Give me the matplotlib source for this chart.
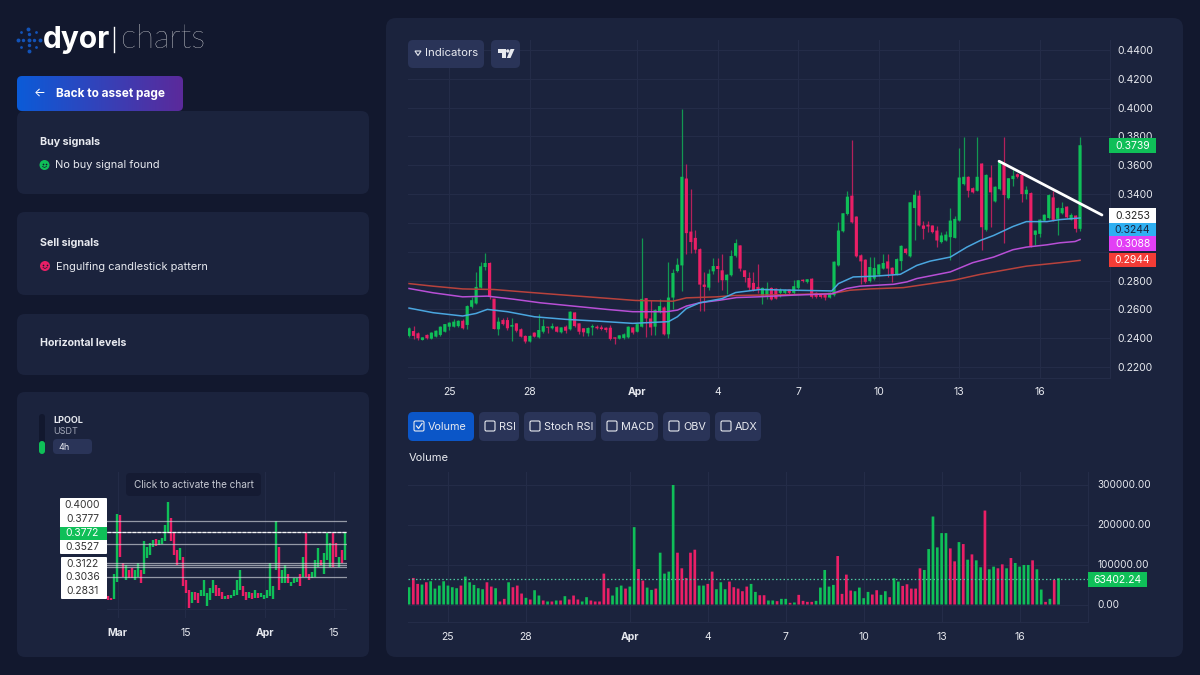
import numpy as np
import matplotlib
matplotlib.use("Agg")
import matplotlib.pyplot as plt
from matplotlib.patches import FancyBboxPatch, Circle, Polygon, Rectangle

plt.rcParams['font.family'] = ['Inter', 'DejaVu Sans']

# --- main chart: 4h candles
opens = [.2416,.2450,.2434,.2388,.2423,.2397,.2411,.2423,.2445,.2480,
         .2480,.2484,.2521,.2492,.2618,.2641,.2751,.2894,.2922,.2675,
         .2462,.2526,.2526,.2480,.2503,.2462,.2416,.2377,.2439,.2406,
         .2445,.2480,.2469,.2480,.2441,.2480,.2462,.2579,.2503,.2469,
         .2434,.2475,.2480,.2475,.2473,.2473,.2406,.2397,.2402,.2406,
         .2475,.2445,.2480,.2678,.2537,.2480,.2581,.2613,.2427,.2682,
         .2866,.2905,.3508,.3140,.3096,.3018,.2772,.2751,.2864,.2901,
         .2871,.2802,.2837,.2972,.3044,.2871,.2818,.2784,.2756,.2687,
         .2692,.2749,.2744,.2715,.2715,.2738,.2715,.2749,.2806,.2791,
         .2813,.2715,.2705,.2703,.2682,.2699,.2905,.3142,.3262,.3389,
         .3244,.2975,.2945,.2797,.2814,.2841,.2883,.2933,.2889,.2843,
         .2935,.3021,.2968,.3303,.3389,.3182,.3188,.3182,.3147,.3067,
         .3078,.3101,.3096,.3216,.3469,.3520,.3441,.3423,.3612,.3152,
         .3515,.3349,.3434,.3607,.3372,.3504,.3538,.3533,.3400,.3407,
         .3117,.3124,.3216,.3234,.3377,.3228,.3267,.3313,.3223,.3251,.3159]
closes = [.2469,.2416,.2400,.2406,.2400,.2439,.2452,.2480,.2498,.2508,
          .2515,.2521,.2469,.2623,.2664,.2756,.2899,.2922,.2692,.2464,
          .2515,.2498,.2469,.2492,.2452,.2411,.2377,.2416,.2411,.2457,
          .2484,.2473,.2484,.2445,.2475,.2452,.2584,.2484,.2445,.2441,
          .2471,.2484,.2469,.2464,.2457,.2395,.2397,.2420,.2427,.2480,
          .2439,.2498,.2673,.2537,.2475,.2595,.2623,.2427,.2682,.2853,
          .2910,.3520,.3129,.3067,.3014,.2772,.2756,.2848,.2901,.2880,
          .2802,.2841,.2970,.3060,.2883,.2825,.2751,.2733,.2738,.2749,
          .2744,.2669,.2675,.2733,.2733,.2715,.2761,.2802,.2797,.2809,
          .2687,.2687,.2687,.2682,.2715,.2931,.3147,.3267,.3382,.3204,
          .2968,.2933,.2791,.2894,.2887,.2912,.2922,.2883,.2843,.2949,
          .3041,.2991,.3343,.3395,.3182,.3159,.3175,.3136,.3078,.3113,
          .3119,.3216,.3228,.3515,.3520,.3423,.3412,.3520,.3170,.3533,
          .3412,.3451,.3625,.3393,.3510,.3527,.3520,.3400,.3430,.3037,
          .3147,.3223,.3257,.3393,.3221,.3303,.3303,.3239,.3255,.3159,.3739]
highs = [.2475,.2485,.2446,.2410,.2430,.2441,.2455,.2485,.2500,.2515,
         .2531,.2526,.2531,.2627,.2687,.2860,.2929,.2993,.2929,.2675,
         .2549,.2537,.2544,.2537,.2508,.2469,.2423,.2420,.2443,.2567,
         .2531,.2480,.2508,.2484,.2480,.2492,.2588,.2584,.2508,.2473,
         .2475,.2498,.2489,.2489,.2480,.2492,.2411,.2425,.2434,.2484,
         .2480,.2503,.3096,.2682,.2664,.2600,.2675,.2623,.2931,.2883,
         .2958,.3993,.3612,.3434,.3152,.3023,.2860,.2883,.2958,.2958,
         .2986,.2848,.3009,.3090,.3048,.2876,.2860,.2860,.2917,.2756,
         .2791,.2754,.2749,.2751,.2744,.2742,.2802,.2806,.2811,.2813,
         .2818,.2719,.2710,.2708,.2719,.2935,.3204,.3271,.3423,.3773,
         .3248,.2986,.2949,.2963,.2963,.2917,.2986,.2986,.2894,.2954,
         .3046,.3025,.3347,.3428,.3428,.3216,.3211,.3186,.3182,.3136,
         .3142,.3303,.3250,.3717,.3796,.3527,.3446,.3796,.3616,.3538,
         .3602,.3455,.3630,.3796,.3515,.3573,.3543,.3538,.3458,.3412,
         .3152,.3228,.3262,.3398,.3423,.3308,.3343,.3317,.3267,.3255,.3796]
lows = [.2410,.2393,.2388,.2385,.2393,.2395,.2408,.2418,.2443,.2457,
        .2475,.2480,.2464,.2462,.2613,.2636,.2745,.2876,.2675,.2462,
        .2420,.2492,.2457,.2381,.2445,.2406,.2365,.2372,.2406,.2400,
        .2434,.2434,.2462,.2441,.2436,.2439,.2457,.2480,.2430,.2416,
        .2416,.2423,.2464,.2457,.2445,.2390,.2358,.2393,.2397,.2402,
        .2430,.2441,.2475,.2411,.2423,.2423,.2572,.2423,.2400,.2600,
        .2862,.2728,.2986,.2991,.2991,.2590,.2588,.2733,.2843,.2791,
        .2733,.2710,.2830,.2963,.2866,.2791,.2733,.2728,.2715,.2636,
        .2669,.2664,.2671,.2687,.2705,.2710,.2710,.2744,.2793,.2786,
        .2682,.2682,.2682,.2664,.2678,.2694,.2901,.3138,.3257,.3200,
        .2963,.2779,.2786,.2791,.2802,.2834,.2878,.2825,.2791,.2839,
        .2871,.2986,.2963,.3078,.3177,.3090,.3136,.3131,.3032,.3060,
        .3073,.2940,.3092,.3211,.3464,.3377,.3407,.3418,.3009,.3147,
        .3170,.3345,.3430,.3060,.3368,.3458,.3515,.3343,.3366,.3032,
        .3050,.3101,.3211,.3230,.3216,.3113,.3262,.3234,.3218,.3140,.3147]

volumes = [43200,66400,51500,49800,55600,58100,39800,47300,58100,47300,
           43200,40700,47300,69700,55600,49000,40700,38200,55600,44800,
           40700,7500,14100,55600,43200,47300,27400,16600,12500,35700,
           22400,10000,7500,7500,10000,10000,20800,12500,22400,12500,
           7500,18300,10000,7500,7500,77200,40700,22400,43200,47300,
           39800,44800,193400,88800,59800,42300,36500,39800,129500,77200,
           82200,298800,129500,90500,66400,129500,137000,47300,47300,51500,
           82200,38200,55600,38200,57300,43200,39800,33200,44800,51500,
           31500,23200,23200,10000,10000,8300,14100,14100,4200,5000,
           24100,9100,6600,6600,9100,42300,86300,44800,49000,121200,
           26600,74700,34900,33200,42300,15800,31500,24900,35700,24100,
           33200,18300,65600,57300,46500,50600,39800,39800,90500,86300,
           138600,220000,142800,178500,178500,140300,107900,156000,151100,112100,
           125300,110400,93000,234900,88000,94600,90500,100400,90500,116200,
           103800,94600,98800,98800,110400,88000,37400,6600,14100,61400,65600]
volume_last = 63402.24

# moving averages, read at a few candle positions
blue_idx = [0,5.4,12,15,17.5,22,28,35,43,50,58,60,62,65,70,73,78.5,86,94.5,96,99.3,
            103.8,109.8,113.5,116.5,121,124.7,127.7,130.7,135,138,142.6,145.5,150]
blue_val = [.2609,.2577,.2554,.2572,.2600,.2584,.2549,.2531,.2517,.2503,.2515,.2549,.2606,
            .2646,.2675,.2717,.2738,.2733,.2728,.2779,.2825,.2830,.2843,.2905,.2935,.2963,
            .3032,.3078,.3113,.3175,.3209,.3209,.3223,.3234]
mag_idx = [0,5.4,12,17.5,23.3,29.3,36.7,44.2,50,57.6,60,62,65,69.5,73.2,78,86,94.5,97.8,
           100.8,108.3,111.3,113.5,121,126,130.7,135,138,142.6,145.5,148.9,150]
mag_val = [.2745,.2715,.2687,.2692,.2671,.2646,.2623,.2600,.2584,.2584,.2595,.2623,.2646,
           .2664,.2682,.2687,.2699,.2708,.2745,.2761,.2774,.2791,.2814,.2860,.2924,.2963,
           .3014,.3032,.3048,.3062,.3071,.3085]
red_idx = [0,5.4,12,19,26.5,37,46,50.6,59,62,68.7,72.5,78,86,94.5,98.6,103,110.5,121.7,
           127.7,138,145.5,150]
red_val = [.2779,.2761,.2742,.2738,.2719,.2694,.2673,.2662,.2657,.2680,.2687,.2696,.2699,
           .2703,.2710,.2733,.2742,.2751,.2802,.2843,.2900,.2924,.2940]
trend_idx = [131.9, 154.9]
trend_val = [.3628, .3255]

date_ticks = [9, 27, 51, 69, 87, 105, 123, 141]
date_labels = ['25', '28', 'Apr', '4', '7', '10', '13', '16']
price_ticks = [.22, .24, .26, .28, .30, .32, .34, .36, .38, .40, .42, .44]
hidden_prices = [.30, .32]  # covered by the tags in the reference
volume_ticks = [0, 100000, 200000, 300000]

# --- small chart bottom left
mini_open = [.243,.239,.237,.274,.413,.312,.277,.298,.302,.277,.284,.298,.291,.323,.330,.347,
             .362,.351,.353,.358,.375,.406,.375,.340,.319,.326,.277,.257,.229,.253,.250,.243,
             .243,.223,.236,.250,.267,.260,.253,.237,.246,.239,.243,.246,.257,.264,.253,.239,
             .250,.239,.251,.241,.237,.239,.243,.237,.298,.347,.271,.271,.291,.264,.271,.274,
             .291,.284,.376,.291,.281,.284,.305,.319,.291,.319,.305,.376,.354,.305,.340,.319]
mini_close = [.236,.236,.291,.415,.326,.284,.309,.281,.281,.298,.312,.272,.358,.347,.354,.361,
              .348,.361,.365,.392,.441,.358,.330,.309,.344,.264,.250,.220,.253,.236,.229,.257,
              .277,.250,.260,.277,.243,.243,.237,.244,.237,.246,.257,.277,.298,.243,.236,.253,
              .237,.257,.239,.250,.246,.257,.312,.264,.400,.257,.298,.309,.271,.274,.281,.281,
              .264,.326,.284,.277,.295,.319,.344,.309,.333,.376,.354,.305,.326,.326,.312,.376]
mini_levels = [.4000, .3777, .3527, .3122, .3080, .3036, .2831]
mini_last = .3772
mini_ticks = [3.3, 25.9, 52.6, 75.3]
mini_labels = ['Mar', '15', 'Apr', '15']

BG = '#12182e'
PANEL = '#1b233d'
GRID = '#242c48'
BTN = '#2a3458'
GREEN = '#0fbf58'
RED = '#ea1f66'
TXT = '#e8eaf0'


def px_axes(x0, y0, x1, y1, **kw):
    return fig.add_axes([x0 / 1200, 1 - y1 / 675, (x1 - x0) / 1200, (y1 - y0) / 675], **kw)


def card(ax, x0, y0, x1, y1, color, r=8, **kw):
    p = FancyBboxPatch((x0 + r, y0 + r), x1 - x0 - 2 * r, y1 - y0 - 2 * r,
                       boxstyle="round,pad=%d,rounding_size=%d" % (r, r),
                       fc=color, ec='none', **kw)
    ax.add_patch(p)
    return p


def face(ax, cx, cy, color):
    ax.add_patch(Circle((cx, cy), 5, fc=color, ec='none'))
    ax.scatter([cx - 1.8, cx + 1.8], [cy - 1.2, cy - 1.2], s=1.5, color='#12182e', linewidths=0)
    ax.plot([cx - 2, cx, cx + 2], [cy + 1.5, cy + 2.5, cy + 1.5], color='#12182e', lw=0.5)


fig = plt.figure(figsize=(12, 6.75), dpi=100, facecolor=BG)

ui = px_axes(0, 0, 1200, 675, zorder=0)
ui.set_xlim(0, 1200)
ui.set_ylim(675, 0)
ui.axis('off')

top = px_axes(0, 0, 1200, 675, zorder=5)
top.set_xlim(0, 1200)
top.set_ylim(675, 0)
top.axis('off')
top.patch.set_alpha(0)

# panels
card(ui, 386, 18, 1183, 657, PANEL, r=10)
card(ui, 17, 111, 369, 194, PANEL)
card(ui, 17, 212, 369, 295, PANEL)
card(ui, 17, 314, 369, 375, PANEL)
card(ui, 17, 392, 369, 657, PANEL)

# logo
for a, rad, s in [(0, 0, 8), (0, 5.5, 6), (90, 5.5, 6), (180, 5.5, 6), (270, 5.5, 6),
                  (0, 11, 8), (45, 11, 4), (90, 11, 8), (135, 11, 4), (180, 11, 8),
                  (225, 11, 4), (270, 11, 8), (315, 11, 4)]:
    ui.scatter(28.5 + rad * np.cos(np.radians(a)), 39.5 + rad * np.sin(np.radians(a)),
               s=s, marker='o', color='#1253b8', linewidths=0)
ui.text(43, 39.5, 'dyor', color='white', fontsize=21.5, fontweight='bold', va='center', ha='left')
ui.plot([114, 114], [27, 52], color='white', lw=1)
ui.text(121, 39, 'charts', color='white', fontsize=23.5, family=['Lato', 'DejaVu Sans'],
        fontweight='light', va='center', ha='left')

# back button
btn = card(ui, 17, 76, 183, 111, 'none', r=5)
grad = ui.imshow(np.linspace(0, 1, 128).reshape(1, -1), extent=(17, 183, 111, 76), aspect='auto',
                 cmap=matplotlib.colors.LinearSegmentedColormap.from_list('b', ['#0b5bd8', '#5b2a9b']))
grad.set_clip_path(btn)
ui.set_xlim(0, 1200)
ui.set_ylim(675, 0)
ui.text(40, 93, '\u2190', color='white', fontsize=9, ha='center', va='center')
ui.text(56, 93.5, 'Back to asset page', color='white', fontsize=8.5, fontweight='bold', va='center')

# left cards
ui.text(40, 142, 'Buy signals', color=TXT, fontsize=7.7, fontweight='bold', va='center')
face(ui, 44.5, 165, GREEN)
ui.text(55, 165.5, 'No buy signal found', color=TXT, fontsize=7.9, va='center')
ui.text(40, 243, 'Sell signals', color=TXT, fontsize=7.7, fontweight='bold', va='center')
face(ui, 45, 266, RED)
ui.text(56, 266.5, 'Engulfing candlestick pattern', color=TXT, fontsize=7.9, va='center')
ui.text(40, 343.5, 'Horizontal levels', color=TXT, fontsize=7.6, fontweight='bold', va='center')

# small chart header
card(ui, 39, 414, 45, 454, BG, r=3)
card(ui, 39, 441, 45, 454, GREEN, r=3)
ui.text(53, 420.5, 'LPOOL', color=TXT, fontsize=6.5, fontweight='bold', va='center')
ui.text(53, 432, 'USDT', color='#a3a8b8', fontsize=6.5, va='center')
card(ui, 53, 439, 92, 454, BTN, r=4)
ui.text(58, 447, '4h', color=TXT, fontsize=6.5, va='center')

# buttons above the main chart
card(top, 408, 40, 484, 68, BTN, r=5)
top.add_patch(Polygon([(415, 51), (421, 51), (418, 55.5)], closed=True, fc='none', ec=TXT, lw=0.8))
top.text(425, 53.5, 'Indicators', color=TXT, fontsize=8.2, va='center')
card(top, 491, 40, 520, 68, BTN, r=5)
top.add_patch(Polygon([(498, 49), (506, 49), (506, 58), (502, 58), (502, 53), (498, 53)], closed=True, fc=TXT, ec='none'))
top.add_patch(Circle((507.8, 51), 1.7, fc=TXT, ec='none'))
top.add_patch(Polygon([(510.5, 49), (514.5, 49), (510.5, 58), (506.8, 58)], closed=True, fc=TXT, ec='none'))

# indicator tabs
tabs = [('Volume', 408, 474), ('RSI', 479, 519), ('Stoch RSI', 524, 596),
        ('MACD', 601, 658), ('OBV', 663, 710), ('ADX', 715, 761)]
for k, (name, x0, x1) in enumerate(tabs):
    card(ui, x0, 412, x1, 441, '#0b56c8' if k == 0 else BTN, r=5)
    ui.add_patch(FancyBboxPatch((x0 + 7, 422), 8, 8, boxstyle="round,pad=1,rounding_size=1.5",
                                fc='none', ec=TXT, lw=0.8))
    if k == 0:
        ui.plot([x0 + 8.5, x0 + 10.5, x0 + 14], [426, 428.5, 423.5], color=TXT, lw=0.9)
    ui.text(x0 + 20, 426.5, name, color=TXT, fontsize=7.8, va='center')
ui.text(409, 458, 'Volume', color=TXT, fontsize=8, va='center')

# main chart
ax = px_axes(408, 40, 1110, 378, zorder=2)
ax.patch.set_alpha(0)
x = np.arange(len(opens))
op, cl, hi, lo = map(np.array, (opens, closes, highs, lows))
up = cl >= op
colors = np.where(up, GREEN, RED)
ax.vlines(x, lo, hi, colors=colors, lw=0.9, alpha=0.75, zorder=3)
bodies = ax.bar(x, np.abs(cl - op), bottom=np.minimum(op, cl), width=0.7, color=colors, linewidth=0, zorder=3)
for b in bodies:
    b.set_snap(False)
ax.plot(red_idx, red_val, color='#b8423c', lw=1.1, zorder=4)
ax.plot(mag_idx, mag_val, color='#b84fd6', lw=1.1, zorder=4)
ax.plot(blue_idx, blue_val, color='#4aa6df', lw=1.1, zorder=4)
ax.plot(trend_idx, trend_val, color='white', lw=2, zorder=5, solid_capstyle='round')
ax.set_xlim(-0.23, 156.7)
ax.set_ylim(.2124, .4469)
ax.yaxis.tick_right()
ax.set_yticks(price_ticks)
ax.set_yticklabels(['' if v in hidden_prices else '%.4f' % v for v in price_ticks])
ax.set_xticks(date_ticks)
ax.set_xticklabels(date_labels)
ax.tick_params(length=0, colors=TXT, labelsize=7.5)
ax.tick_params(axis='x', pad=6.5)
ax.tick_params(axis='y', pad=5)
ax.grid(True, color=GRID, lw=0.8, zorder=0)
ax.set_axisbelow(True)
for s in ['top', 'left']:
    ax.spines[s].set_visible(False)
for s in ['right', 'bottom']:
    ax.spines[s].set_color(GRID)

# volume chart
vx = px_axes(408, 472, 1088, 622, zorder=2)
vx.patch.set_alpha(0)
vbars = vx.bar(x, volumes, width=0.62, color=colors, linewidth=0, zorder=3)
for b in vbars:
    b.set_snap(False)
vx.axhline(volume_last, color='#4fc7a0', lw=0.9, ls=(0, (1.2, 1.8)), zorder=4)
vx.set_xlim(-0.23, 156.8)
vx.set_ylim(-43750, 331250)
vx.yaxis.tick_right()
vx.set_yticks(volume_ticks)
vx.set_yticklabels(['%.2f' % v for v in volume_ticks])
vx.set_xticks(date_ticks)
vx.set_xticklabels(date_labels)
vx.tick_params(length=0, colors=TXT, labelsize=7.5)
vx.tick_params(axis='x', pad=7)
vx.tick_params(axis='y', labelsize=7.2, pad=7)
vx.grid(True, color=GRID, lw=0.8, zorder=0)
vx.set_axisbelow(True)
for s in ['top', 'left']:
    vx.spines[s].set_visible(False)
for s in ['right', 'bottom']:
    vx.spines[s].set_color(GRID)

for a in (ax, vx):
    for lab, name in zip(a.get_xticklabels(), date_labels):
        if name == 'Apr':
            lab.set_fontweight('bold')

# small chart
mx = px_axes(107, 472, 347, 618, zorder=2)
mx.patch.set_alpha(0)
mo, mc = np.array(mini_open), np.array(mini_close)
mx.vlines(np.arange(len(mo)), np.minimum(mo, mc), np.maximum(mo, mc),
          colors=np.where(mc >= mo, GREEN, RED), lw=1.7, zorder=3)
for lv in mini_levels:
    mx.axhline(lv, color='#c9ccd4', lw=0.9, alpha=0.7, zorder=4)
mx.axhline(mini_last, color='white', lw=0.9, ls=(0, (3, 1)), alpha=0.9, zorder=5)
mx.set_xlim(-0.2, 79.8)
mx.set_ylim(.1981, .5029)
mx.set_xticks(mini_ticks)
mx.set_xticklabels(mini_labels)
mx.set_yticks([.2168])
mx.tick_params(left=False, labelleft=False, length=0, colors=TXT, labelsize=7.5, pad=7)
mx.grid(True, color=GRID, lw=0.7, zorder=0)
mx.set_axisbelow(True)
for s in mx.spines.values():
    s.set_visible(False)
for lab, name in zip(mx.get_xticklabels(), mini_labels):
    if name in ('Mar', 'Apr'):
        lab.set_fontweight('bold')

# tags and small chart labels on top
price_tags = [('0.3739', 138, 153, GREEN, 'white'), ('0.3253', 208, 223, 'white', '#222'),
              ('0.3244', 223, 236, '#2fb0f2', '#1b233d'), ('0.3088', 236, 251, '#e23ff5', 'white'),
              ('0.2944', 253, 267, '#f43c36', 'white')]
for txt, y0, y1, fc, tc in price_tags:
    top.add_patch(Rectangle((1109, y0), 47, y1 - y0, fc=fc, ec='none'))
    top.text(1132.5, (y0 + y1) / 2 + 0.3, txt, color=tc, fontsize=7.5, ha='center', va='center')
top.add_patch(Rectangle((1088, 572), 59, 15, fc=GREEN, ec='none'))
top.text(1117.5, 579.7, '%.2f' % volume_last, color='white', fontsize=7.5, ha='center', va='center')

card(top, 126, 473, 261, 496, '#151b33', r=4)
top.text(193.5, 484.5, 'Click to activate the chart', color='#c6c9d2', fontsize=7.2, ha='center', va='center')

card(top, 60, 498, 107, 554, 'white', r=1)
card(top, 61, 557, 107, 599, 'white', r=1)
top.add_patch(Rectangle((60, 527), 47, 13, fc=GREEN, ec='none'))
for txt, y, c in [('0.4000', 505, '#333'), ('0.3777', 519, '#333'), ('0.3772', 533, 'white'),
                  ('0.3527', 546.5, '#333'), ('0.3122', 564, '#333'), ('0.3036', 577, '#333'),
                  ('0.2831', 591, '#333')]:
    top.text(82.5, y, txt, color=c, fontsize=7.4, ha='center', va='center')

plt.savefig('out.png', dpi=100, facecolor=BG)
